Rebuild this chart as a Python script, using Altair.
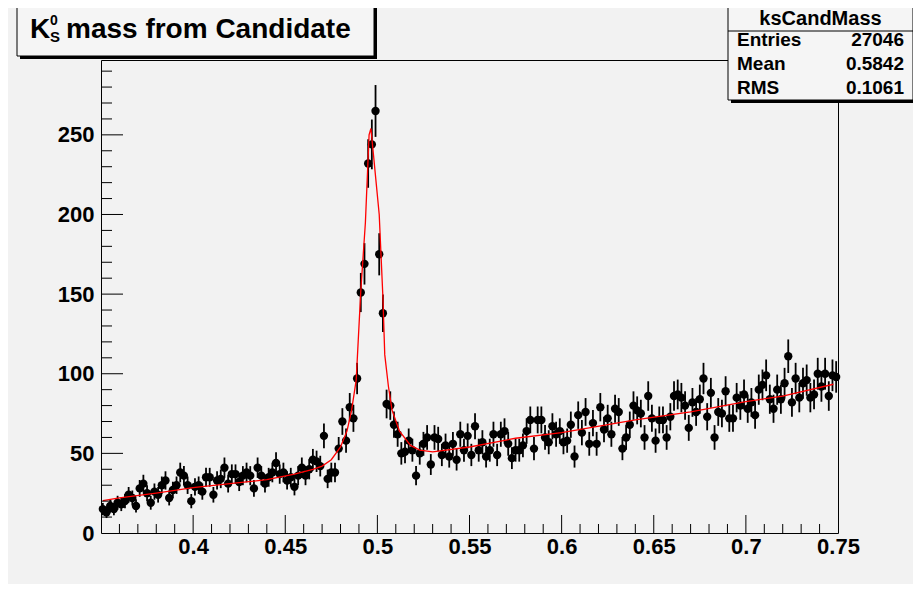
import altair as alt
import pandas as pd
import numpy as np

# ---------------- data ----------------
bin_lo = 0.35
bin_w = 0.002
counts = [
    15, 13, 17, 15, 19, 18, 20, 24, 22, 17,
    28, 31, 25, 19, 26, 24, 30, 33, 22, 27,
    30, 38, 36, 30, 20, 29, 30, 26, 35, 35,
    24, 33, 34, 41, 31, 37, 37, 32, 36, 38,
    36, 28, 41, 36, 31, 35, 38, 44, 37, 38,
    33, 35, 29, 36, 41, 36, 40, 46, 45, 42,
    61, 34, 38, 38, 53, 70, 58, 79, 72, 97,
    151, 169, 232, 244, 265, 175, 138, 81, 80, 68,
    62, 50, 51, 58, 52, 36, 50, 56, 60, 43,
    60, 59, 49, 55, 48, 56, 46, 62, 52, 61,
    49, 67, 52, 57, 48, 52, 62, 49, 62, 64,
    56, 47, 52, 52, 55, 64, 71, 53, 71, 71,
    60, 57, 67, 62, 64, 57, 58, 68, 48, 74,
    63, 76, 56, 69, 56, 79, 65, 72, 62, 78,
    76, 53, 60, 68, 80, 77, 75, 60, 86, 72,
    58, 71, 71, 60, 73, 86, 87, 85, 80, 66,
    82, 76, 84, 97, 73, 88, 60, 76, 75, 89,
    72, 72, 85, 80, 87, 78, 82, 74, 90, 93,
    99, 84, 78, 90, 84, 94, 111, 82, 97, 85,
    94, 96, 85, 87, 100, 92, 100, 86, 99, 98,
]

fit_x = [0.351, 0.36, 0.38, 0.40, 0.42, 0.44, 0.455, 0.465, 0.47, 0.475,
         0.48, 0.4835, 0.486, 0.4885, 0.491, 0.4935, 0.4955, 0.4965, 0.498,
         0.501, 0.503, 0.504, 0.506, 0.508, 0.512, 0.518, 0.523, 0.53,
         0.55, 0.575, 0.60, 0.64, 0.67, 0.70, 0.72, 0.7475]
fit_y = [20.3, 22, 25, 28.5, 31, 33.5, 37, 40, 42, 46,
         54, 64, 77, 96, 152, 195, 250, 254, 236,
         200, 148, 112, 92, 77, 64, 55, 52, 51,
         54, 59.5, 63, 71, 76, 82.5, 86, 93.4]

x_major = [0.4, 0.45, 0.5, 0.55, 0.6, 0.65, 0.7, 0.75]
x_minor = [0.36, 0.37, 0.38, 0.39, 0.41, 0.42, 0.43, 0.44, 0.46, 0.47, 0.48, 0.49,
           0.51, 0.52, 0.53, 0.54, 0.56, 0.57, 0.58, 0.59, 0.61, 0.62, 0.63, 0.64,
           0.66, 0.67, 0.68, 0.69, 0.71, 0.72, 0.73, 0.74]
y_major = [0, 50, 100, 150, 200, 250]
y_minor = [10, 20, 30, 40, 60, 70, 80, 90, 110, 120, 130, 140, 160, 170, 180, 190,
           210, 220, 230, 240, 260, 270, 280, 290]

title_parts = ["K", "0", "S", "mass from Candidate"]
stats_name = "ksCandMass"
stats_labels = ["Entries", "Mean", "RMS"]
stats_values = ["27046", "0.5842", "0.1061"]

# ---------------- frames ----------------
W, H = 737, 473
X_DOM = [0.35, 0.75]
Y_DOM = [0, 297]
FONT = "Liberation Sans"
GRAY = "#f2f2f2"

centers = [round(bin_lo + bin_w * (i + 0.5), 4) for i in range(len(counts))]
df = pd.DataFrame({"x": centers, "n": counts})
df["lo"] = df["n"] - np.sqrt(df["n"])
df["hi"] = df["n"] + np.sqrt(df["n"])
fit_df = pd.DataFrame({"x": fit_x, "y": fit_y})

xs = alt.Scale(domain=X_DOM, nice=False, zero=False)
ys = alt.Scale(domain=Y_DOM, nice=False, zero=False)

x_axis = alt.Axis(values=x_major, format="~g", title=None, grid=False, tickSize=0,
                  domain=False, labelFont=FONT, labelFontWeight="bold", labelFontSize=22,
                  labelColor="black", labelPadding=3, labelFlush=False)
y_axis = alt.Axis(values=y_major, format="d", title=None, grid=False, tickSize=0,
                  domain=False, labelFont=FONT, labelFontWeight="bold", labelFontSize=22,
                  labelColor="black", labelPadding=7)

base = alt.Chart(df)
errs = base.mark_rule(color="black", strokeWidth=1.8).encode(
    x=alt.X("x:Q", scale=xs, axis=x_axis),
    y=alt.Y("lo:Q", scale=ys, axis=y_axis),
    y2="hi:Q",
)
pts = base.mark_circle(color="black", opacity=1, size=70).encode(
    x=alt.X("x:Q", scale=xs),
    y=alt.Y("n:Q", scale=ys),
)
fit = alt.Chart(fit_df).mark_line(color="#ff0000", strokeWidth=1.3).encode(
    x=alt.X("x:Q", scale=xs),
    y=alt.Y("y:Q", scale=ys),
)

# inward ticks
xmaj = alt.Chart(pd.DataFrame({"v": x_major[:-1]})).mark_rule(color="black").encode(
    x=alt.X("v:Q", scale=xs), y=alt.value(H), y2=alt.value(H - 18))
xmin = alt.Chart(pd.DataFrame({"v": x_minor})).mark_rule(color="black").encode(
    x=alt.X("v:Q", scale=xs), y=alt.value(H), y2=alt.value(H - 9))
ymaj = alt.Chart(pd.DataFrame({"v": y_major[1:]})).mark_rule(color="black").encode(
    y=alt.Y("v:Q", scale=ys), x=alt.value(0), x2=alt.value(22))
ymin = alt.Chart(pd.DataFrame({"v": y_minor})).mark_rule(color="black").encode(
    y=alt.Y("v:Q", scale=ys), x=alt.value(0), x2=alt.value(11))

one = pd.DataFrame({"a": [0]})

def box(x1, x2, y1, y2, fill):
    shadow = alt.Chart(one).mark_rect(fill="black").encode(
        x=alt.value(x1 + 3), x2=alt.value(x2 + 3), y=alt.value(y1 + 3), y2=alt.value(y2 + 3))
    face = alt.Chart(one).mark_rect(fill=fill, stroke="black", strokeWidth=1).encode(
        x=alt.value(x1), x2=alt.value(x2), y=alt.value(y1), y2=alt.value(y2))
    return shadow + face

def txt(s, x, y, size, align="left", weight="bold"):
    return alt.Chart(one).mark_text(align=align, baseline="alphabetic", font=FONT,
                                    fontSize=size, fontWeight=weight, color="black").encode(
        x=alt.value(x), y=alt.value(y), text=alt.value(s))

# title pave (coordinates relative to the frame origin)
title_box = box(-84, 273, -55, -4, "#f5f5f5")
title_txt = (txt(title_parts[0], -71, -22, 28)
             + txt(title_parts[1], -51, -35, 14)
             + txt(title_parts[2], -51, -18, 15)
             + txt(title_parts[3], -35, -22, 28))

stats_box = box(627, 812, -55, 40, "#f5f5f5")
sep = alt.Chart(one).mark_rule(color="black").encode(
    x=alt.value(627), x2=alt.value(812), y=alt.value(-29))
stats_txt = txt(stats_name, 719.5, -35, 20, align="center")
for i, (lab, val) in enumerate(zip(stats_labels, stats_values)):
    yy = -14 + i * 23.8
    stats_txt = stats_txt + txt(lab, 636, yy, 19) + txt(val, 803, yy, 19, align="right")

chart = alt.layer(
    errs, pts, fit, xmaj, xmin, ymaj, ymin,
    title_box, title_txt, stats_box, sep, stats_txt,
).properties(
    width=W, height=H,
    padding={"left": 93, "top": 52, "right": 75, "bottom": 51},
    autosize=alt.AutoSizeParams(type="none"),
    background=GRAY,
).configure_view(stroke="black", strokeWidth=1)

chart.save("out.html", embed_options={"renderer": "svg", "actions": False})
